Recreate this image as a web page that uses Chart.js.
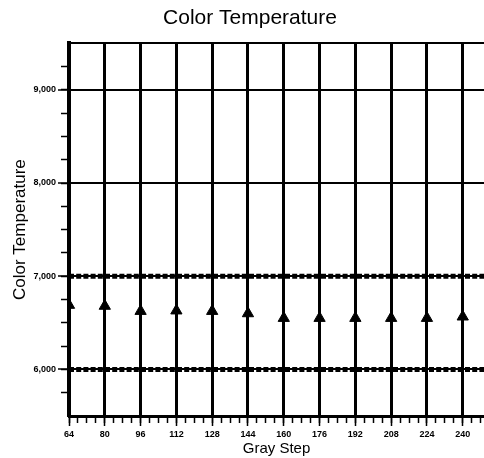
<!DOCTYPE html>
<html><head><meta charset="utf-8">
<script src="https://cdn.jsdelivr.net/npm/chart.js@4.4.0/dist/chart.umd.min.js"></script>
<style>html,body{margin:0;padding:0;background:#fff;}#wrap{width:484px;height:458px;}</style>
</head><body><div id="wrap"><canvas id="c" width="484" height="458"></canvas></div>
<script>
const grayStep = [64, 80, 96, 112, 128, 144, 160, 176, 192, 208, 224, 240];
const colorTemp = [6690, 6680, 6625, 6630, 6625, 6600, 6550, 6550, 6550, 6550, 6550, 6565];
const limitValues = [7000, 6000];
const xMin = 64, xMax = 249.5;
const yMin = 5500, yMax = 9500;
const xMajorStep = 16, xMinorStep = 4;
const yMajorStep = 1000, yMinorStep = 250;

const FONT = 'Liberation Sans, Arial, Helvetica, sans-serif';
const CLEAR = 'rgba(0,0,0,0)';

const limitSets = limitValues.map(v => ({
  type: 'line', showLine: true,
  data: [{x: xMin, y: v}, {x: 256, y: v}],
  borderColor: '#000', borderWidth: 5, borderDash: [5, 2.2], borderCapStyle: 'butt',
  pointRadius: 0, clip: 0
}));

new Chart(document.getElementById('c'), {
  type: 'line',
  data: {
    datasets: [
      ...limitSets,
      {
        type: 'line', showLine: false,
        data: grayStep.map((x, i) => ({x: x, y: colorTemp[i]})),
        pointStyle: 'triangle', pointRadius: 6.5,
        pointBackgroundColor: '#000', pointBorderColor: '#000', pointBorderWidth: 1,
        clip: 0
      }
    ]
  },
  options: {
    responsive: false, animation: false, devicePixelRatio: 1,
    layout: {autoPadding: false, padding: {left: 16, right: 0, top: 0, bottom: 0}},
    plugins: {
      legend: {display: false}, tooltip: {enabled: false},
      title: {display: true, text: 'Color Temperature', color: '#000',
        font: {family: FONT, size: 21, weight: 'normal'}, padding: {top: 6, bottom: 12}}
    },
    scales: {
      x: {
        type: 'linear', position: 'bottom', min: xMin, max: xMax,
        afterFit: s => { s.height = 42; s.paddingLeft = 0; s.paddingRight = 0; },
        ticks: {stepSize: xMinorStep, autoSkip: false, maxRotation: 0, minRotation: 0, includeBounds: false,
          padding: 3, color: '#000', font: {family: FONT, size: 9, weight: 'bold'},
          callback: v => (v % xMajorStep === 0 ? String(v) : '')},
        grid: {
          color: c => (c.tick && c.tick.value % xMajorStep === 0 ? '#000' : CLEAR),
          tickColor: c => (c.tick && c.tick.value % xMajorStep === 0 ? '#000' : CLEAR),
          lineWidth: 3, tickWidth: 1.5, tickLength: 10, drawTicks: true
        },
        border: {display: true, color: '#000', width: 3},
        title: {display: true, text: 'Gray Step', color: '#000',
          font: {family: FONT, size: 15, weight: 'normal'}, padding: {top: 0, bottom: 0}}
      },
      xm: {
        axis: 'x', type: 'linear', position: {y: yMin}, min: xMin, max: xMax,
        afterFit: s => { s.height = 0; s.paddingLeft = 0; s.paddingRight = 0; },
        ticks: {display: false, stepSize: xMinorStep, autoSkip: false, includeBounds: false},
        grid: {drawOnChartArea: false, drawTicks: true, tickLength: 7, tickColor: '#000', tickWidth: 1.5},
        border: {display: false}
      },
      y: {
        type: 'linear', position: 'left', min: yMin, max: yMax,
        afterFit: s => { s.width = 53; s.paddingTop = 0; s.paddingBottom = 0; },
        ticks: {stepSize: yMinorStep, autoSkip: false, includeBounds: false, padding: 2, color: '#000',
          font: {family: FONT, size: 9, weight: 'bold'},
          callback: v => (v % yMajorStep === 0 ? v.toLocaleString('en-US') : '')},
        grid: {
          color: c => (c.tick && (c.tick.value % yMajorStep === 0 || c.tick.value === yMax) ? '#000' : CLEAR),
          tickColor: c => (c.tick && c.tick.value % yMajorStep === 0 ? '#000' : CLEAR),
          lineWidth: 2, tickWidth: 1.5, tickLength: 11, drawTicks: true
        },
        border: {display: true, color: '#000', width: 4},
        title: {display: true, text: 'Color Temperature', color: '#000',
          font: {family: FONT, size: 17, weight: 'normal'}, padding: {top: -6, bottom: 0}}
      },
      ym: {
        axis: 'y', type: 'linear', position: {x: xMin}, min: yMin, max: yMax,
        afterFit: s => { s.width = 0; s.paddingTop = 0; s.paddingBottom = 0; },
        ticks: {display: false, stepSize: yMinorStep, autoSkip: false, includeBounds: false},
        grid: {drawOnChartArea: false, drawTicks: true, tickLength: 8,
          tickColor: c => (c.tick && c.tick.value > yMin && c.tick.value < yMax ? '#000' : CLEAR), tickWidth: 1.5},
        border: {display: false}
      }
    }
  }
});
</script></body></html>
